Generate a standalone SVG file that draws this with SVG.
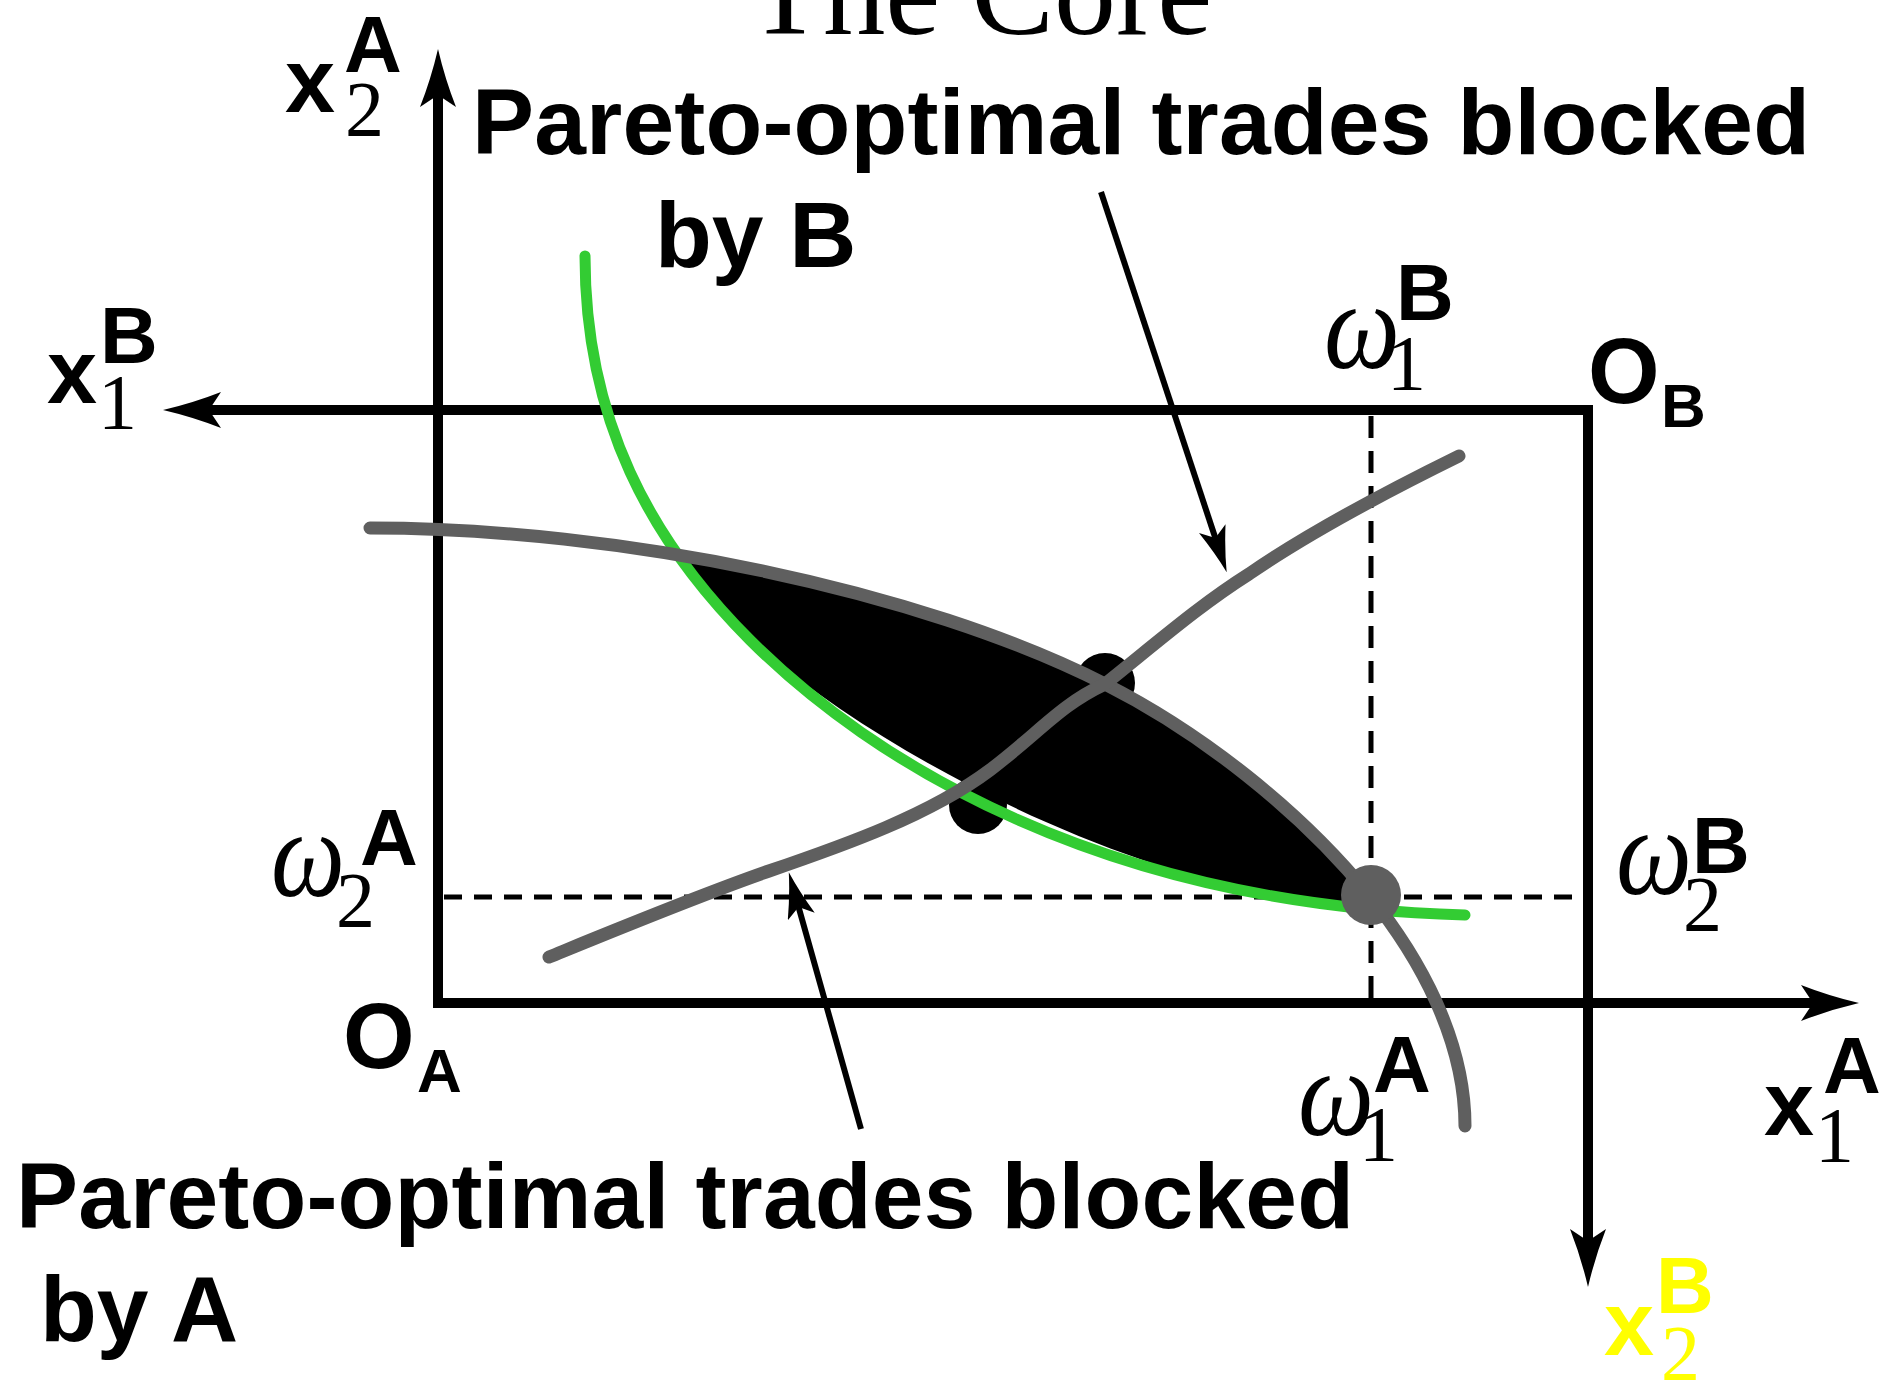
<svg xmlns="http://www.w3.org/2000/svg" width="1883" height="1381" viewBox="0 0 1883 1381">
<style>
.b{font-family:"Liberation Sans",Arial,sans-serif;font-weight:bold;fill:#000}
.s{font-family:"Liberation Serif","Times New Roman",serif;fill:#000}
.w{font-family:"Liberation Serif","Times New Roman",serif;font-style:italic;fill:#000;font-size:124px}
.ax{stroke:#000;stroke-width:10;fill:none}
.dash{stroke:#000;stroke-width:5;fill:none}
.ptr{stroke:#000;stroke-width:6;fill:none}
.ic{stroke:#5f5f5f;stroke-width:13;fill:none;stroke-linecap:round}
.cc{stroke:#33cc33;stroke-width:11;fill:none;stroke-linecap:round}
.y{fill:#ffff00}
</style>
<defs>
<marker id="axh" markerUnits="userSpaceOnUse" viewBox="0 0 58 44" markerWidth="58" markerHeight="44" refX="14" refY="22" orient="auto">
<path d="M58,22 Q28,15 0,4 L12,22 L0,40 Q28,29 58,22 Z" fill="#000"/>
</marker>
<marker id="ph" markerUnits="userSpaceOnUse" viewBox="0 0 46 28" markerWidth="46" markerHeight="28" refX="12" refY="14" orient="auto">
<path d="M46,14 Q24,9 0,0 L10,14 L0,28 Q24,19 46,14 Z" fill="#000"/>
</marker>
</defs>
<rect width="1883" height="1381" fill="#fff"/>

<text id="title" class="s" x="980" y="34" font-size="124" text-anchor="middle">The Core</text>

<g id="axes">
<line class="ax" x1="438" y1="1008" x2="438" y2="93" marker-end="url(#axh)"/>
<line class="ax" x1="433" y1="1003" x2="1815" y2="1003" stroke-width="11" marker-end="url(#axh)"/>
<line class="ax" x1="1593" y1="410" x2="207" y2="410" stroke-width="11" marker-end="url(#axh)"/>
<line class="ax" x1="1588" y1="405" x2="1588" y2="1243" marker-end="url(#axh)"/>
<line class="dash" x1="1371" y1="416" x2="1371" y2="998" stroke-dasharray="22 13"/>
<line class="dash" x1="444" y1="897" x2="1579" y2="897" stroke-dasharray="18 12"/>
</g>

<g id="core">
<path d="M684,552 C850,585 1000,630 1105,684 C1200,732 1300,810 1369,895 L1369,912 C1150,890 900,770 750,640 C725,615 700,585 684,552 Z" fill="#000"/>
</g>

<g id="dots">
<circle cx="1105" cy="683" r="30" fill="#000"/>
<circle cx="978" cy="805" r="29" fill="#000"/>
</g>

<g id="contract-curve">
<path class="cc" d="M585,256 C585,420 650,540 750,640 C870,760 1100,905 1465,915"/>
</g>

<g id="indifference-A">
<path class="ic" d="M370,528 C620,528 920,590 1105,684 C1200,732 1300,810 1369,895 C1420,958 1465,1040 1465,1126"/>
</g>

<g id="indifference-B">
<path class="ic" d="M549,957 C620,928 700,895 769,871 C845,845 930,815 990,770 C1040,732 1060,705 1105,684 C1160,640 1200,605 1249,574 C1310,532 1400,485 1459,456"/>
</g>

<g id="endowment">
<circle cx="1371" cy="895" r="30" fill="#5f5f5f"/>
</g>

<g id="connectors">
<line class="ptr" x1="1101" y1="192" x2="1216" y2="540" marker-end="url(#ph)"/>
<line class="ptr" x1="861" y1="1129" x2="798" y2="905" marker-end="url(#ph)"/>
</g>

<g id="label-blocked-B">
<text class="b" x="472" y="154" font-size="93" textLength="1338" lengthAdjust="spacing">Pareto-optimal trades blocked</text>
<text class="b" x="655" y="267" font-size="93">by B</text>
</g>
<g id="label-blocked-A">
<text class="b" x="16" y="1228" font-size="93" textLength="1338" lengthAdjust="spacing">Pareto-optimal trades blocked</text>
<text class="b" x="40" y="1341" font-size="93">by A</text>
</g>

<g id="label-x2A">
<text class="b" x="285" y="112" font-size="90">x</text>
<text class="s" x="345" y="135" font-size="78">2</text>
<text class="b" x="344" y="72" font-size="80">A</text>
</g>
<g id="label-x1B">
<text class="b" x="47" y="403" font-size="90">x</text>
<text class="s" x="98" y="428" font-size="78">1</text>
<text class="b" x="100" y="363" font-size="80">B</text>
</g>
<g id="label-OB">
<text class="b" x="1588" y="403" font-size="92">O</text>
<text class="b" x="1661" y="427" font-size="62">B</text>
</g>
<g id="label-w1B">
<text class="w" x="1324" y="368" textLength="76" lengthAdjust="spacingAndGlyphs">ω</text>
<text class="s" x="1387" y="389" font-size="78">1</text>
<text class="b" x="1396" y="320" font-size="80">B</text>
</g>
<g id="label-w2A">
<text class="w" x="271" y="896" textLength="74" lengthAdjust="spacingAndGlyphs">ω</text>
<text class="s" x="336" y="926" font-size="78">2</text>
<text class="b" x="360" y="865" font-size="80">A</text>
</g>
<g id="label-w2B">
<text class="w" x="1616" y="894" textLength="76" lengthAdjust="spacingAndGlyphs">ω</text>
<text class="s" x="1683" y="930" font-size="78">2</text>
<text class="b" x="1692" y="873" font-size="80">B</text>
</g>
<g id="label-OA">
<text class="b" x="343" y="1068" font-size="92">O</text>
<text class="b" x="417" y="1092" font-size="62">A</text>
</g>
<g id="label-w1A">
<text class="w" x="1298" y="1135" textLength="76" lengthAdjust="spacingAndGlyphs">ω</text>
<text class="s" x="1359" y="1160" font-size="78">1</text>
<text class="b" x="1373" y="1092" font-size="80">A</text>
</g>
<g id="label-x1A">
<text class="b" x="1764" y="1135" font-size="90">x</text>
<text class="s" x="1815" y="1161" font-size="78">1</text>
<text class="b" x="1823" y="1093" font-size="80">A</text>
</g>
<g id="label-x2B">
<text class="b y" x="1604" y="1355" font-size="90">x</text>
<text class="s y" x="1661" y="1379" font-size="78">2</text>
<text class="b y" x="1656" y="1313" font-size="80">B</text>
</g>
</svg>
